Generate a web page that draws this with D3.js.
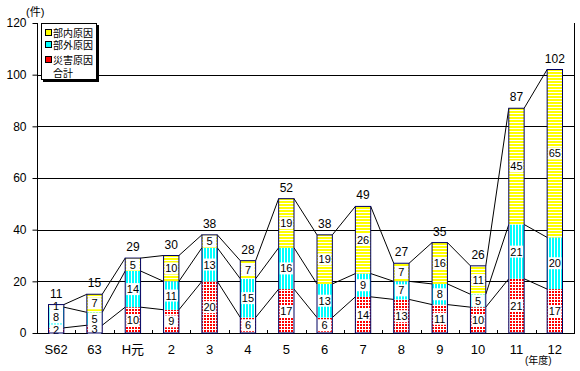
<!DOCTYPE html>
<html>
<head>
<meta charset="utf-8">
<script src="https://cdn.jsdelivr.net/npm/d3@7"></script>
<style>
  body { margin: 0; background: #fff; }
  svg text { font-family: "Liberation Sans", "Noto Sans CJK JP", sans-serif; fill: #000; }
</style>
</head>
<body>
<script>
// data
var categories = ["S62", "63", "H元", "2", "3", "4", "5", "6", "7", "8", "9", "10", "11", "12"];
var saigai = [2, 3, 10, 9, 20, 6, 17, 6, 14, 13, 11, 10, 21, 17];   // 災害原因
var bugai  = [8, 5, 14, 11, 13, 15, 16, 13, 9, 7, 8, 5, 21, 20];   // 部外原因
var bunai  = [1, 7, 5, 10, 5, 7, 19, 19, 26, 7, 16, 11, 45, 65];   // 部内原因
var totals = [11, 15, 29, 30, 38, 28, 52, 38, 49, 27, 35, 26, 87, 102];
var yTicks = [0, 20, 40, 60, 80, 100, 120];
var legendNames = ["部内原因", "部外原因", "災害原因", "合計"];

var width = 580, height = 371;
var margin = {top: 23, right: 6, bottom: 38, left: 37};

var svg = d3.select("body").append("svg")
    .attr("width", width)
    .attr("height", height);

// fill patterns
var defs = svg.append("defs");
var pRed = defs.append("pattern").attr("id", "pRed")
    .attr("patternUnits", "userSpaceOnUse").attr("width", 3).attr("height", 3);
pRed.append("rect").attr("width", 3).attr("height", 3).attr("fill", "#fff");
pRed.append("rect").attr("width", 2).attr("height", 2).attr("fill", "#ff0000");

var pCyan = defs.append("pattern").attr("id", "pCyan")
    .attr("patternUnits", "userSpaceOnUse").attr("width", 3).attr("height", 3);
pCyan.append("rect").attr("width", 3).attr("height", 3).attr("fill", "#fff");
pCyan.append("rect").attr("width", 2).attr("height", 3).attr("fill", "#00ffff");

var pYel = defs.append("pattern").attr("id", "pYel")
    .attr("patternUnits", "userSpaceOnUse").attr("width", 3).attr("height", 3);
pYel.append("rect").attr("width", 3).attr("height", 3).attr("fill", "#fff");
pYel.append("rect").attr("width", 3).attr("height", 2).attr("fill", "#ffff00");

var fills = ["url(#pRed)", "url(#pCyan)", "url(#pYel)"];

// scales
var x = d3.scaleBand()
    .domain(categories)
    .range([margin.left, width - margin.right])
    .paddingInner(0.6)
    .paddingOuter(0.3);
var step = x.step();

var y = d3.scaleLinear()
    .domain([0, 120])
    .range([height - margin.bottom, margin.top]);

// gridlines
svg.append("g").selectAll("line")
    .data(yTicks.filter(function(d) { return d > 0 && d < 120; }))
  .enter().append("line")
    .attr("x1", margin.left).attr("x2", width - margin.right)
    .attr("y1", function(d) { return Math.round(y(d)) + 0.5; })
    .attr("y2", function(d) { return Math.round(y(d)) + 0.5; })
    .attr("stroke", "#000").attr("stroke-width", 1);

// y axis
var yAxis = d3.axisLeft(y).tickValues(yTicks).tickSize(5).tickPadding(6);
var gy = svg.append("g")
    .attr("transform", "translate(" + (margin.left + 0.5) + ",0)")
    .call(yAxis);
gy.select(".domain").remove();
gy.selectAll(".tick line").attr("stroke", "#000");
gy.selectAll(".tick text").style("font-size", "12px");

// axis frame lines
svg.append("line")
    .attr("x1", margin.left + 0.5).attr("x2", margin.left + 0.5)
    .attr("y1", y(120)).attr("y2", y(0))
    .attr("stroke", "#000");
svg.append("line")
    .attr("x1", width - margin.right + 0.5).attr("x2", width - margin.right + 0.5)
    .attr("y1", y(120)).attr("y2", y(0))
    .attr("stroke", "#000");
svg.append("line")
    .attr("x1", margin.left).attr("x2", width - margin.right + 1)
    .attr("y1", Math.round(y(0)) + 0.5).attr("y2", Math.round(y(0)) + 0.5)
    .attr("stroke", "#000");

// small ticks between categories on the x axis
svg.append("g").selectAll("line")
    .data(categories.slice(1))
  .enter().append("line")
    .attr("x1", function(d) { return Math.round(x(d) - step * 0.3) + 0.5; })
    .attr("x2", function(d) { return Math.round(x(d) - step * 0.3) + 0.5; })
    .attr("y1", Math.round(y(0)))
    .attr("y2", Math.round(y(0)) - 3)
    .attr("stroke", "#000");

// category labels
svg.append("g").selectAll("text")
    .data(categories)
  .enter().append("text")
    .attr("x", function(d) { return x(d) + x.bandwidth() / 2; })
    .attr("y", 354)
    .attr("text-anchor", "middle")
    .style("font-size", "13px")
    .text(function(d) { return d; });

// stacked data
var rows = categories.map(function(c, i) {
  return {cat: c, s0: saigai[i], s1: bugai[i], s2: bunai[i]};
});
var stack = d3.stack().keys(["s0", "s1", "s2"])(rows);

// series lines between neighbouring bars
var bw = x.bandwidth();
stack.forEach(function(layer) {
  var segs = [];
  for (var i = 0; i < layer.length - 1; i++) {
    segs.push({
      x1: x(categories[i]) + bw, y1: y(layer[i][1]),
      x2: x(categories[i + 1]), y2: y(layer[i + 1][1])
    });
  }
  svg.append("g").selectAll("line")
      .data(segs)
    .enter().append("line")
      .attr("x1", function(d) { return d.x1; })
      .attr("y1", function(d) { return d.y1; })
      .attr("x2", function(d) { return d.x2; })
      .attr("y2", function(d) { return d.y2; })
      .attr("stroke", "#000").attr("stroke-width", 1);
});

// bar segments
var layers = svg.append("g").selectAll("g")
    .data(stack)
  .enter().append("g")
    .attr("fill", function(d, i) { return fills[i]; });

layers.selectAll("rect")
    .data(function(d) { return d; })
  .enter().append("rect")
    .attr("x", function(d) { return x(d.data.cat); })
    .attr("y", function(d) { return y(d[1]); })
    .attr("width", bw)
    .attr("height", function(d) { return y(d[0]) - y(d[1]); });

// segment labels in white boxes
stack.forEach(function(layer) {
  var g = svg.append("g");
  var lab = g.selectAll("g")
      .data(layer)
    .enter().append("g")
      .attr("transform", function(d) {
        return "translate(" + (x(d.data.cat) + bw / 2) + "," + ((y(d[0]) + y(d[1])) / 2) + ")";
      });
  lab.append("rect")
      .attr("x", -bw / 2 + 1).attr("y", -6)
      .attr("width", bw - 2).attr("height", 12)
      .attr("fill", "#fff");
  lab.append("text")
      .attr("text-anchor", "middle")
      .attr("dy", "0.36em")
      .style("font-size", "11px")
      .text(function(d) { return d[1] - d[0]; });
});

// bar outline
svg.append("g").selectAll("rect")
    .data(rows)
  .enter().append("rect")
    .attr("x", function(d) { return x(d.cat); })
    .attr("y", function(d, i) { return y(totals[i]); })
    .attr("width", bw)
    .attr("height", function(d, i) { return y(0) - y(totals[i]); })
    .attr("fill", "none")
    .attr("stroke", "#000060")
    .attr("stroke-width", 1);

// totals (合計)
svg.append("g").selectAll("text")
    .data(totals)
  .enter().append("text")
    .attr("x", function(d, i) { return x(categories[i]) + bw / 2; })
    .attr("y", function(d) { return y(d) - 7; })
    .attr("text-anchor", "middle")
    .style("font-size", "12px")
    .text(function(d) { return d; });

// unit labels
svg.append("text").attr("x", 26).attr("y", 16)
    .style("font-size", "11px").text("(件)");
svg.append("text").attr("x", 525).attr("y", 364)
    .style("font-size", "10px").text("(年度)");

// legend
var lg = svg.append("g").attr("transform", "translate(41,23)");
lg.append("rect").attr("x", 2).attr("y", 2).attr("width", 56).attr("height", 57)
    .attr("fill", "#000");
lg.append("rect").attr("x", 0.5).attr("y", 0.5).attr("width", 55).attr("height", 56)
    .attr("fill", "#fff").attr("stroke", "#000");
var legColors = ["#ffff00", "#00ffff", "#ff0000", null];
var legY = [10, 22, 37, 50];
var item = lg.selectAll(".item")
    .data(legendNames)
  .enter().append("g")
    .attr("class", "item")
    .attr("transform", function(d, i) { return "translate(0," + legY[i] + ")"; });
item.filter(function(d, i) { return legColors[i]; })
  .append("rect")
    .attr("x", 4.5).attr("y", -3.5).attr("width", 6).attr("height", 6)
    .attr("fill", function(d, i) { return legColors[i]; })
    .attr("stroke", "#000");
item.append("text")
    .attr("x", 12)
    .attr("dy", "0.38em")
    .style("font-size", "10px")
    .text(function(d) { return d; });
</script>
</body>
</html>
